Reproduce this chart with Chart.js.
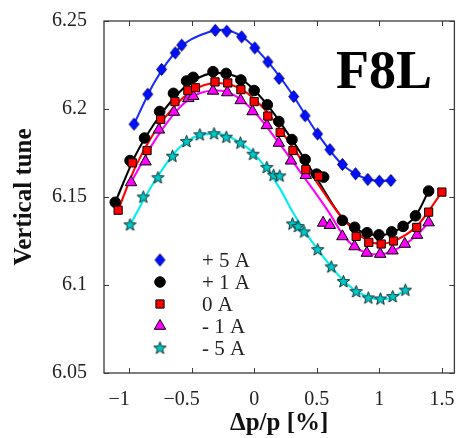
<!DOCTYPE html>
<html><head><meta charset="utf-8">
<script src="https://cdn.jsdelivr.net/npm/chart.js@4/dist/chart.umd.min.js"></script>
<style>html,body{margin:0;padding:0;overflow:hidden;background:#fff}canvas{display:block}</style>
</head><body>
<canvas id="c" width="462" height="438"></canvas>
<script>
// ---- data ----
const xTickValues = [-1, -0.5, 0, 0.5, 1, 1.5];
const yTickValues = [6.05, 6.1, 6.15, 6.2, 6.25];
const seriesLabels = ['+ 5 A', '+ 1 A', '0 A', '- 1 A', '- 5 A'];
const panelLabel = 'F8L';

const plus5X = [-0.96,-0.85,-0.74,-0.631,-0.579,-0.311,-0.219,-0.10,0.005,0.11,0.199,0.316,0.407,0.507,0.605,0.705,0.81,0.908,1.0,1.092];
const plus5Y = [6.1914,6.2084,6.2225,6.2319,6.2363,6.2447,6.2442,6.241,6.2347,6.2268,6.2174,6.2071,6.1962,6.1858,6.1769,6.1685,6.1632,6.160,6.159,6.1594];
const plus5FitX = [-0.96,-0.8,-0.6,-0.4,-0.25,-0.1,0.1,0.3,0.5,0.7,0.9,1.0,1.092];
const plus5FitY = [6.1914,6.2148,6.2345,6.2428,6.2450,6.2412,6.2276,6.2088,6.1866,6.1688,6.1602,6.1592,6.1594];

const plus1X = [-1.11,-0.992,-0.876,-0.755,-0.645,-0.54,-0.487,-0.329,-0.224,-0.106,0,0.105,0.197,0.302,0.407,0.499,0.555,0.705,0.803,0.902,0.997,1.099,1.19,1.289,1.394];
const plus1Y = [6.147,6.1707,6.1835,6.1986,6.2089,6.2159,6.218,6.2212,6.2202,6.2165,6.2105,6.2024,6.1929,6.1826,6.1713,6.163,6.1613,6.1367,6.1328,6.1297,6.1285,6.1302,6.1333,6.1393,6.1534];
const plus1FitX = [-1.11,-0.95,-0.8,-0.65,-0.5,-0.3,-0.1,0.1,0.3,0.5,0.7,0.85,1.0,1.15,1.29,1.394];
const plus1FitY = [6.147,6.1735,6.1915,6.2055,6.2155,6.2205,6.2168,6.2028,6.1828,6.1605,6.1385,6.1305,6.1283,6.1315,6.1393,6.1534];

const zeroX = [-1.087,-0.974,-0.856,-0.747,-0.633,-0.53,-0.469,-0.313,-0.211,-0.106,0,0.109,0.208,0.31,0.413,0.515,0.815,0.916,1.015,1.113,1.299,1.394,1.5];
const zeroY = [6.1425,6.1694,6.1764,6.1941,6.2042,6.2106,6.2121,6.2154,6.2148,6.211,6.2042,6.196,6.1867,6.1764,6.1656,6.1617,6.1276,6.1242,6.1233,6.125,6.1327,6.1414,6.1528];
const zeroFitX = [-1.087,-0.95,-0.8,-0.65,-0.5,-0.3,-0.1,0.1,0.3,0.5,0.7,0.9,1.0,1.1,1.3,1.5];
const zeroFitY = [6.1425,6.167,6.1865,6.2005,6.2102,6.2148,6.2112,6.1985,6.1790,6.1585,6.1385,6.1255,6.1235,6.1245,6.1335,6.1528];

const minus1X = [-0.984,-0.868,-0.761,-0.641,-0.526,-0.487,-0.329,-0.215,-0.108,-0.013,0.101,0.197,0.294,0.413,0.551,0.605,0.705,0.802,0.9,1.007,1.105,1.204,1.302,1.394];
const minus1Y = [6.1583,6.1701,6.1882,6.1983,6.2061,6.2073,6.2103,6.2094,6.2049,6.1986,6.1907,6.1807,6.1706,6.1624,6.1353,6.134,6.1276,6.1219,6.1182,6.1176,6.1195,6.1233,6.1284,6.1355];
const minus1FitX = [-0.984,-0.8,-0.6,-0.45,-0.3,-0.15,0,0.2,0.4,0.6,0.7,0.8,0.9,1.0,1.1,1.2,1.3,1.394];
const minus1FitY = [6.1583,6.1815,6.2005,6.2085,6.2105,6.2075,6.1985,6.1805,6.1612,6.141,6.1295,6.1218,6.1182,6.1173,6.1192,6.1230,6.1283,6.1355];

const minus5X = [-0.992,-0.886,-0.769,-0.653,-0.54,-0.434,-0.321,-0.223,-0.11,-0.009,0.101,0.155,0.204,0.306,0.35,0.399,0.508,0.616,0.713,0.815,0.912,1.009,1.107,1.208];
const minus5Y = [6.1342,6.150,6.161,6.1732,6.1816,6.1854,6.186,6.184,6.1807,6.1743,6.1668,6.1624,6.162,6.1347,6.1333,6.1302,6.1201,6.1103,6.102,6.0963,6.0927,6.0921,6.0935,6.0971];
const minus5FitX = [-0.992,-0.8,-0.6,-0.45,-0.3,-0.15,0,0.2,0.3,0.4,0.5,0.6,0.7,0.8,0.9,1.0,1.1,1.208];
const minus5FitY = [6.1342,6.1585,6.1778,6.1848,6.186,6.1825,6.1745,6.1555,6.1425,6.1310,6.1208,6.1118,6.1035,6.0972,6.0935,6.0918,6.0928,6.0971];

// ---- helpers ----
const pts = (xs, ys) => xs.map((x, i) => ({x, y: ys[i]}));

function makeStar(fill, stroke) {
  const c = document.createElement('canvas'); c.width = 15; c.height = 15;
  const g = c.getContext('2d');
  g.beginPath();
  for (let i = 0; i < 10; i++) {
    const r = i % 2 === 0 ? 6.5 : 2.7;
    const a = -Math.PI / 2 + i * Math.PI / 5;
    const px = 7.5 + r * Math.cos(a), py = 7.8 + r * Math.sin(a);
    i === 0 ? g.moveTo(px, py) : g.lineTo(px, py);
  }
  g.closePath(); g.fillStyle = fill; g.fill();
  g.lineWidth = 1; g.strokeStyle = stroke; g.stroke();
  return c;
}
function makeDiamond(fill, stroke) {
  const c = document.createElement('canvas'); c.width = 13; c.height = 15;
  const g = c.getContext('2d');
  g.beginPath(); g.moveTo(6.5, 1.5); g.lineTo(11.5, 7.5); g.lineTo(6.5, 13.5); g.lineTo(1.5, 7.5); g.closePath();
  g.fillStyle = fill; g.fill(); g.lineWidth = 1; g.strokeStyle = stroke; g.stroke();
  return c;
}
const starImg = makeStar('#00c8c8', '#103030');
const diamondImg = makeDiamond('#0010ff', '#000070');

const markerSets = [
  {label: seriesLabels[0], data: pts(plus5X, plus5Y), pointStyle: diamondImg, pointRadius: 6, backgroundColor: '#0010ff', borderColor: '#000070', order: 1},
  {label: seriesLabels[1], data: pts(plus1X, plus1Y), pointStyle: 'circle', pointRadius: 5.3, backgroundColor: '#000000', borderColor: '#000000', order: 3},
  {label: seriesLabels[2], data: pts(zeroX, zeroY), pointStyle: 'rect', pointRadius: 5.8, backgroundColor: '#ff0000', borderColor: '#000000', order: 2},
  {label: seriesLabels[3], data: pts(minus1X, minus1Y), pointStyle: 'triangle', pointRadius: 6.6, backgroundColor: '#ff00ff', borderColor: '#000000', order: 4},
  {label: seriesLabels[4], data: pts(minus5X, minus5Y), pointStyle: starImg, pointRadius: 6, backgroundColor: '#00c8c8', borderColor: '#103030', order: 5}
].map(d => Object.assign({type: 'scatter', showLine: false, pointBorderWidth: 1, pointHoverRadius: d.pointRadius, isMarker: true}, d));

const fitSets = [
  {data: pts(plus5FitX, plus5FitY), borderColor: '#1a2cff', order: 10},
  {data: pts(plus1FitX, plus1FitY), borderColor: '#000000', order: 12},
  {data: pts(zeroFitX, zeroFitY), borderColor: '#ff0000', order: 11},
  {data: pts(minus1FitX, minus1FitY), borderColor: '#ff00ff', order: 13},
  {data: pts(minus5FitX, minus5FitY), borderColor: '#00eeee', order: 14}
].map(d => Object.assign({type: 'line', label: '', showLine: true, pointRadius: 0, borderWidth: 2.1, cubicInterpolationMode: 'monotone', fill: false}, d));

const serif = "'Liberation Serif', 'Times New Roman', serif";

const decorPlugin = {
  id: 'decor',
  afterDraw(chart) {
    const {ctx, chartArea: a, scales: {x, y}} = chart;
    ctx.save();
    // frame
    ctx.strokeStyle = '#3a3a3a'; ctx.lineWidth = 1.3;
    ctx.strokeRect(a.left, a.top, a.right - a.left, a.bottom - a.top);
    // inner tick marks
    ctx.lineWidth = 1; ctx.beginPath();
    xTickValues.forEach(v => { const px = Math.round(x.getPixelForValue(v)) + 0.5;
      ctx.moveTo(px, a.bottom); ctx.lineTo(px, a.bottom - 5);
      ctx.moveTo(px, a.top); ctx.lineTo(px, a.top + 5); });
    yTickValues.forEach(v => { const py = Math.round(y.getPixelForValue(v)) + 0.5;
      ctx.moveTo(a.left, py); ctx.lineTo(a.left + 5, py);
      ctx.moveTo(a.right, py); ctx.lineTo(a.right - 5, py); });
    ctx.stroke();
    // panel label
    ctx.fillStyle = '#000'; ctx.font = "bold 54px " + serif;
    ctx.textAlign = 'center'; ctx.textBaseline = 'alphabetic';
    ctx.fillText(panelLabel, 384, 88);
    // legend
    const rowY = [260, 282, 304, 326, 348];
    ctx.font = "21px " + serif; ctx.textAlign = 'left'; ctx.textBaseline = 'middle';
    chart.data.datasets.filter(d => d.isMarker).forEach((d, i) => {
      ctx.fillStyle = d.backgroundColor; ctx.strokeStyle = d.borderColor; ctx.lineWidth = 1;
      Chart.helpers.drawPoint(ctx, {pointStyle: d.pointStyle, radius: d.pointRadius, borderWidth: 1, rotation: 0}, 160, rowY[i]);
      ctx.fillStyle = '#222';
      ctx.fillText(d.label, 202, rowY[i] + 1);
    });
    ctx.restore();
  }
};

new Chart(document.getElementById('c'), {
  data: {datasets: [...markerSets, ...fitSets]},
  options: {
    responsive: false, devicePixelRatio: 1, animation: false,
    layout: {padding: {left: 0, right: 3, top: 19, bottom: 0}},
    plugins: {legend: {display: false}, tooltip: {enabled: false}},
    scales: {
      x: {
        type: 'linear', position: 'bottom', min: -1.2, max: 1.6,
        grid: {display: false}, border: {display: false},
        afterBuildTicks: s => { s.ticks = xTickValues.map(v => ({value: v})); },
        afterFit: s => { s.height = 65; },
        ticks: {padding: 7, color: '#222', font: {family: serif, size: 20},
          callback: v => v < 0 ? '\u2212' + Math.abs(v) + '\u2003' : String(v)},
        title: {display: true, text: '\u0394p/p [%]', color: '#111', padding: {top: 0, bottom: -1},
          font: {family: serif, size: 25, weight: 'bold'}}
      },
      y: {
        type: 'linear', position: 'left', min: 6.05, max: 6.25,
        grid: {display: false}, border: {display: false},
        afterBuildTicks: s => { s.ticks = yTickValues.map(v => ({value: v})); },
        afterFit: s => { s.width = 104; },
        ticks: {padding: 9, color: '#222', font: {family: serif, size: 20},
          callback: v => String(+v.toFixed(2))},
        title: {display: true, text: 'Vertical tune', color: '#111', padding: {top: 10, bottom: 0},
          font: {family: serif, size: 25, weight: 'bold'}}
      }
    }
  },
  plugins: [decorPlugin]
});
</script>
</body></html>
